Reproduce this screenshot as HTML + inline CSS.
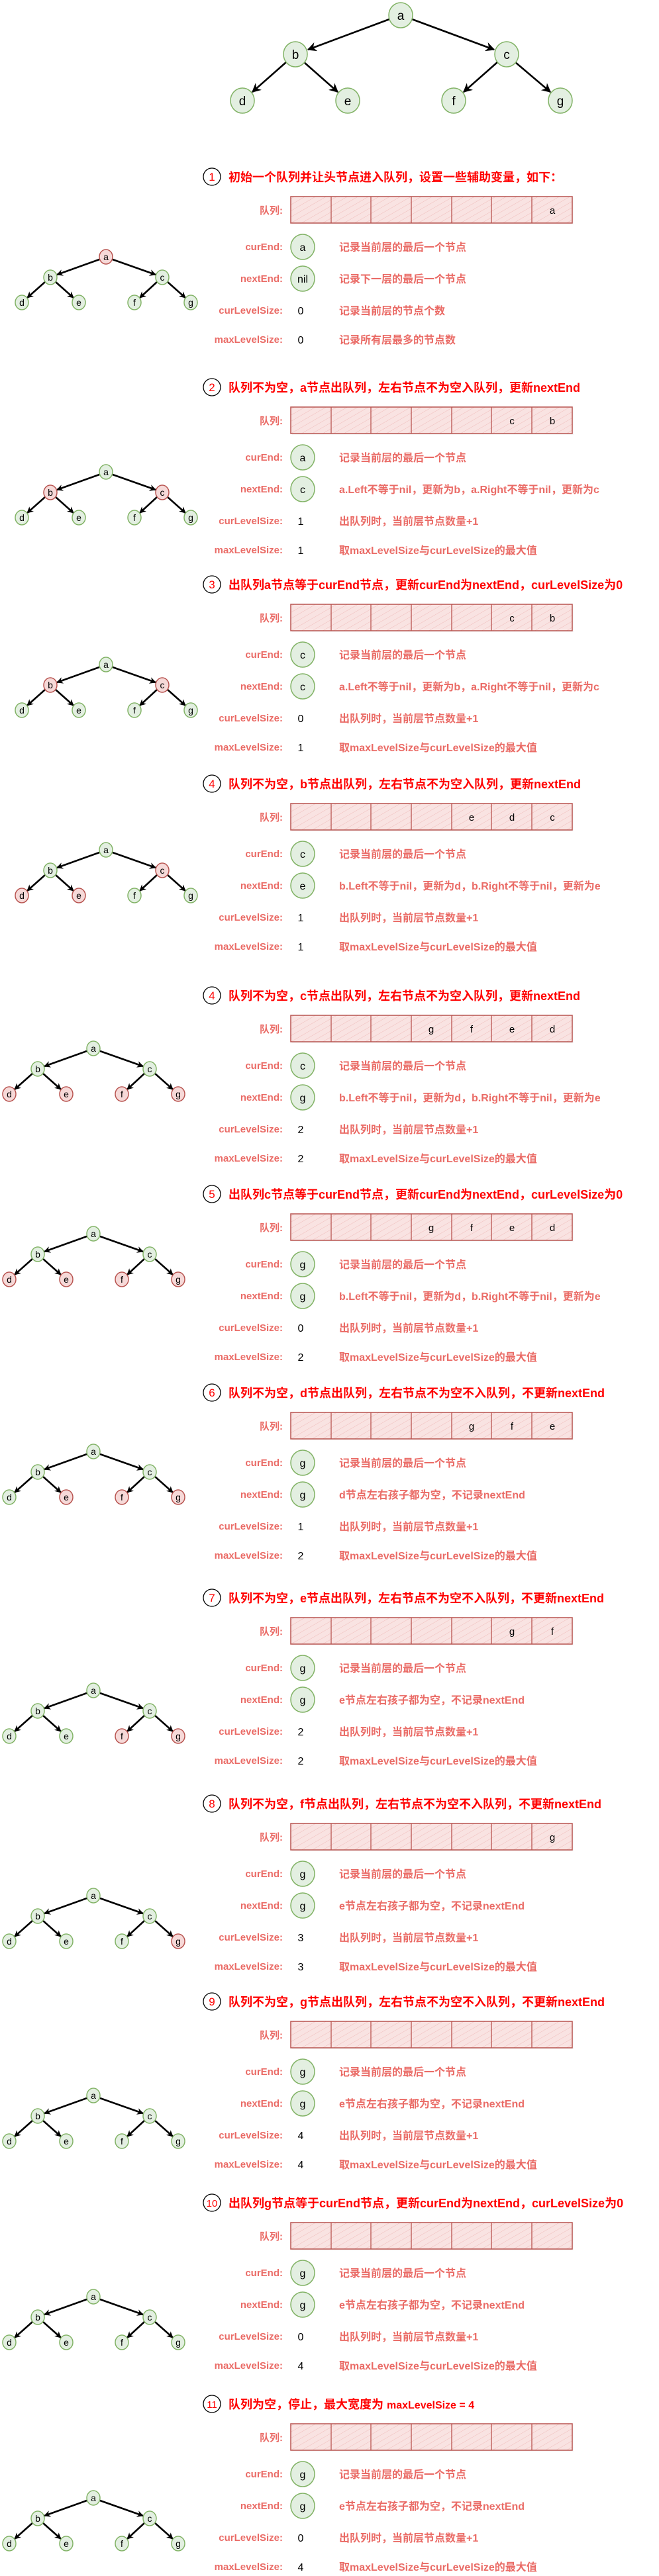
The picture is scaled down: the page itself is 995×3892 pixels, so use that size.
<!DOCTYPE html>
<html><head><meta charset="utf-8"><style>
html,body{margin:0;padding:0;background:#fff;}
svg{display:block;}
text{font-family:"Liberation Sans","Noto Sans CJK SC",sans-serif;}
.hn{font-size:17px;fill:#f00;text-anchor:middle;}
.ht{font-size:18px;font-weight:bold;fill:#f00;}
.lb{font-size:15px;font-weight:bold;fill:#ea6b66;text-anchor:end;}
.ds{font-size:16px;font-weight:bold;fill:#ea6b66;}
.vv{font-size:16px;fill:#000;text-anchor:middle;}
.ql{font-size:15px;fill:#000;text-anchor:middle;}
.tn{font-size:14px;fill:#000;text-anchor:middle;}
.bn{font-size:19px;fill:#000;text-anchor:middle;}
.ng{fill:#e3efe1;stroke:#82b366;stroke-width:1.5;}
.nr{fill:#f6d9d8;stroke:#b85450;stroke-width:1.5;}
.ar{stroke:#000;stroke-width:2.6;fill:none;}
.hc{fill:#fff;stroke:#000;stroke-width:1.3;}
</style></head><body>
<svg width="995" height="3892" viewBox="0 0 995 3892" xmlns="http://www.w3.org/2000/svg">
<defs>
<pattern id="hp" width="8" height="8" patternUnits="userSpaceOnUse" patternTransform="rotate(60)">
<rect width="8" height="8" fill="#f9e3e2"/><line x1="0" y1="0" x2="0" y2="8" stroke="#efbcba" stroke-width="1"/></pattern>
<marker id="m1" viewBox="0 0 10 10" refX="9" refY="5" markerWidth="10" markerHeight="10" markerUnits="userSpaceOnUse" orient="auto"><path d="M0,0 L10,5 L0,10 L3,5 z" fill="#000"/></marker>
<marker id="m2" viewBox="0 0 10 10" refX="9" refY="5" markerWidth="14" markerHeight="14" markerUnits="userSpaceOnUse" orient="auto"><path d="M0,0 L10,5 L0,10 L3,5 z" fill="#000"/></marker>
<g id="q">
<rect x="441" y="32" width="425" height="40" fill="#eee" opacity="0.6"/>
<rect x="439" y="30" width="425" height="40" fill="url(#hp)" stroke="#b85450" stroke-width="1.5"/>
<path d="M500,30V70M560,30V70M621,30V70M682,30V70M742,30V70M803,30V70" stroke="#b85450" stroke-width="1.3"/>
</g>
<g id="ar">
<line class="ar" x1="-10" y1="4" x2="-74" y2="27" marker-end="url(#m1)"/>
<line class="ar" x1="10" y1="4" x2="75" y2="27" marker-end="url(#m1)"/>
<line class="ar" x1="-92" y1="38" x2="-119" y2="62" marker-end="url(#m1)"/>
<line class="ar" x1="-76" y1="38" x2="-49" y2="62" marker-end="url(#m1)"/>
<line class="ar" x1="77" y1="38" x2="51" y2="62" marker-end="url(#m1)"/>
<line class="ar" x1="93" y1="38" x2="120" y2="62" marker-end="url(#m1)"/>
</g>
<g id="lbls">
<text x="427" y="56" class="lb">队列:</text>
<text x="427" y="111" class="lb">curEnd:</text>
<text x="427" y="159" class="lb">nextEnd:</text>
<text x="427" y="207" class="lb">curLevelSize:</text>
<text x="427" y="251" class="lb">maxLevelSize:</text>
<ellipse class="ng" cx="457" cy="106" rx="18" ry="19"/>
<ellipse class="ng" cx="457" cy="154" rx="18" ry="19"/>
</g>
</defs>

<!-- big tree -->
<line class="ar" x1="588" y1="29" x2="465" y2="75" stroke-width="3.2" marker-end="url(#m2)"/>
<line class="ar" x1="622" y1="29" x2="746" y2="75" stroke-width="3.2" marker-end="url(#m2)"/>
<line class="ar" x1="432" y1="94" x2="381" y2="139" stroke-width="3.2" marker-end="url(#m2)"/>
<line class="ar" x1="459" y1="94" x2="510" y2="139" stroke-width="3.2" marker-end="url(#m2)"/>
<line class="ar" x1="751" y1="94" x2="700" y2="139" stroke-width="3.2" marker-end="url(#m2)"/>
<line class="ar" x1="778" y1="94" x2="831" y2="139" stroke-width="3.2" marker-end="url(#m2)"/>
<ellipse class="ng" cx="605" cy="23" rx="18" ry="19"/><text class="bn" x="605" y="30">a</text>
<ellipse class="ng" cx="446" cy="82" rx="18" ry="19"/><text class="bn" x="446" y="89">b</text>
<ellipse class="ng" cx="765" cy="82" rx="18" ry="19"/><text class="bn" x="765" y="89">c</text>
<ellipse class="ng" cx="366" cy="152" rx="18" ry="19"/><text class="bn" x="366" y="159">d</text>
<ellipse class="ng" cx="525" cy="152" rx="18" ry="19"/><text class="bn" x="525" y="159">e</text>
<ellipse class="ng" cx="685" cy="152" rx="18" ry="19"/><text class="bn" x="685" y="159">f</text>
<ellipse class="ng" cx="846" cy="152" rx="18" ry="19"/><text class="bn" x="846" y="159">g</text>

<!-- small trees -->
<g transform="translate(160,388)"><use href="#ar"/>
<ellipse class="nr" cx="0" cy="0" rx="10" ry="11"/><text class="tn" x="0" y="5">a</text>
<ellipse class="ng" cx="-84" cy="31" rx="10" ry="11"/><text class="tn" x="-84" y="36">b</text>
<ellipse class="ng" cx="85" cy="31" rx="10" ry="11"/><text class="tn" x="85" y="36">c</text>
<ellipse class="ng" cx="-127" cy="69" rx="10" ry="11"/><text class="tn" x="-127" y="74">d</text>
<ellipse class="ng" cx="-41" cy="69" rx="10" ry="11"/><text class="tn" x="-41" y="74">e</text>
<ellipse class="ng" cx="43" cy="69" rx="10" ry="11"/><text class="tn" x="43" y="74">f</text>
<ellipse class="ng" cx="128" cy="69" rx="10" ry="11"/><text class="tn" x="128" y="74">g</text></g>

<g transform="translate(160,713)"><use href="#ar"/>
<ellipse class="ng" cx="0" cy="0" rx="10" ry="11"/><text class="tn" x="0" y="5">a</text>
<ellipse class="nr" cx="-84" cy="31" rx="10" ry="11"/><text class="tn" x="-84" y="36">b</text>
<ellipse class="nr" cx="85" cy="31" rx="10" ry="11"/><text class="tn" x="85" y="36">c</text>
<ellipse class="ng" cx="-127" cy="69" rx="10" ry="11"/><text class="tn" x="-127" y="74">d</text>
<ellipse class="ng" cx="-41" cy="69" rx="10" ry="11"/><text class="tn" x="-41" y="74">e</text>
<ellipse class="ng" cx="43" cy="69" rx="10" ry="11"/><text class="tn" x="43" y="74">f</text>
<ellipse class="ng" cx="128" cy="69" rx="10" ry="11"/><text class="tn" x="128" y="74">g</text></g>

<g transform="translate(160,1004)"><use href="#ar"/>
<ellipse class="ng" cx="0" cy="0" rx="10" ry="11"/><text class="tn" x="0" y="5">a</text>
<ellipse class="nr" cx="-84" cy="31" rx="10" ry="11"/><text class="tn" x="-84" y="36">b</text>
<ellipse class="nr" cx="85" cy="31" rx="10" ry="11"/><text class="tn" x="85" y="36">c</text>
<ellipse class="ng" cx="-127" cy="69" rx="10" ry="11"/><text class="tn" x="-127" y="74">d</text>
<ellipse class="ng" cx="-41" cy="69" rx="10" ry="11"/><text class="tn" x="-41" y="74">e</text>
<ellipse class="ng" cx="43" cy="69" rx="10" ry="11"/><text class="tn" x="43" y="74">f</text>
<ellipse class="ng" cx="128" cy="69" rx="10" ry="11"/><text class="tn" x="128" y="74">g</text></g>

<g transform="translate(160,1284)"><use href="#ar"/>
<ellipse class="ng" cx="0" cy="0" rx="10" ry="11"/><text class="tn" x="0" y="5">a</text>
<ellipse class="ng" cx="-84" cy="31" rx="10" ry="11"/><text class="tn" x="-84" y="36">b</text>
<ellipse class="nr" cx="85" cy="31" rx="10" ry="11"/><text class="tn" x="85" y="36">c</text>
<ellipse class="nr" cx="-127" cy="69" rx="10" ry="11"/><text class="tn" x="-127" y="74">d</text>
<ellipse class="nr" cx="-41" cy="69" rx="10" ry="11"/><text class="tn" x="-41" y="74">e</text>
<ellipse class="ng" cx="43" cy="69" rx="10" ry="11"/><text class="tn" x="43" y="74">f</text>
<ellipse class="ng" cx="128" cy="69" rx="10" ry="11"/><text class="tn" x="128" y="74">g</text></g>

<g transform="translate(141,1584)"><use href="#ar"/>
<ellipse class="ng" cx="0" cy="0" rx="10" ry="11"/><text class="tn" x="0" y="5">a</text>
<ellipse class="ng" cx="-84" cy="31" rx="10" ry="11"/><text class="tn" x="-84" y="36">b</text>
<ellipse class="ng" cx="85" cy="31" rx="10" ry="11"/><text class="tn" x="85" y="36">c</text>
<ellipse class="nr" cx="-127" cy="69" rx="10" ry="11"/><text class="tn" x="-127" y="74">d</text>
<ellipse class="nr" cx="-41" cy="69" rx="10" ry="11"/><text class="tn" x="-41" y="74">e</text>
<ellipse class="nr" cx="43" cy="69" rx="10" ry="11"/><text class="tn" x="43" y="74">f</text>
<ellipse class="nr" cx="128" cy="69" rx="10" ry="11"/><text class="tn" x="128" y="74">g</text></g>

<g transform="translate(141,1864)"><use href="#ar"/>
<ellipse class="ng" cx="0" cy="0" rx="10" ry="11"/><text class="tn" x="0" y="5">a</text>
<ellipse class="ng" cx="-84" cy="31" rx="10" ry="11"/><text class="tn" x="-84" y="36">b</text>
<ellipse class="ng" cx="85" cy="31" rx="10" ry="11"/><text class="tn" x="85" y="36">c</text>
<ellipse class="nr" cx="-127" cy="69" rx="10" ry="11"/><text class="tn" x="-127" y="74">d</text>
<ellipse class="nr" cx="-41" cy="69" rx="10" ry="11"/><text class="tn" x="-41" y="74">e</text>
<ellipse class="nr" cx="43" cy="69" rx="10" ry="11"/><text class="tn" x="43" y="74">f</text>
<ellipse class="nr" cx="128" cy="69" rx="10" ry="11"/><text class="tn" x="128" y="74">g</text></g>

<g transform="translate(141,2193)"><use href="#ar"/>
<ellipse class="ng" cx="0" cy="0" rx="10" ry="11"/><text class="tn" x="0" y="5">a</text>
<ellipse class="ng" cx="-84" cy="31" rx="10" ry="11"/><text class="tn" x="-84" y="36">b</text>
<ellipse class="ng" cx="85" cy="31" rx="10" ry="11"/><text class="tn" x="85" y="36">c</text>
<ellipse class="ng" cx="-127" cy="69" rx="10" ry="11"/><text class="tn" x="-127" y="74">d</text>
<ellipse class="nr" cx="-41" cy="69" rx="10" ry="11"/><text class="tn" x="-41" y="74">e</text>
<ellipse class="nr" cx="43" cy="69" rx="10" ry="11"/><text class="tn" x="43" y="74">f</text>
<ellipse class="nr" cx="128" cy="69" rx="10" ry="11"/><text class="tn" x="128" y="74">g</text></g>

<g transform="translate(141,2554)"><use href="#ar"/>
<ellipse class="ng" cx="0" cy="0" rx="10" ry="11"/><text class="tn" x="0" y="5">a</text>
<ellipse class="ng" cx="-84" cy="31" rx="10" ry="11"/><text class="tn" x="-84" y="36">b</text>
<ellipse class="ng" cx="85" cy="31" rx="10" ry="11"/><text class="tn" x="85" y="36">c</text>
<ellipse class="ng" cx="-127" cy="69" rx="10" ry="11"/><text class="tn" x="-127" y="74">d</text>
<ellipse class="ng" cx="-41" cy="69" rx="10" ry="11"/><text class="tn" x="-41" y="74">e</text>
<ellipse class="nr" cx="43" cy="69" rx="10" ry="11"/><text class="tn" x="43" y="74">f</text>
<ellipse class="nr" cx="128" cy="69" rx="10" ry="11"/><text class="tn" x="128" y="74">g</text></g>

<g transform="translate(141,2864)"><use href="#ar"/>
<ellipse class="ng" cx="0" cy="0" rx="10" ry="11"/><text class="tn" x="0" y="5">a</text>
<ellipse class="ng" cx="-84" cy="31" rx="10" ry="11"/><text class="tn" x="-84" y="36">b</text>
<ellipse class="ng" cx="85" cy="31" rx="10" ry="11"/><text class="tn" x="85" y="36">c</text>
<ellipse class="ng" cx="-127" cy="69" rx="10" ry="11"/><text class="tn" x="-127" y="74">d</text>
<ellipse class="ng" cx="-41" cy="69" rx="10" ry="11"/><text class="tn" x="-41" y="74">e</text>
<ellipse class="ng" cx="43" cy="69" rx="10" ry="11"/><text class="tn" x="43" y="74">f</text>
<ellipse class="nr" cx="128" cy="69" rx="10" ry="11"/><text class="tn" x="128" y="74">g</text></g>

<g transform="translate(141,3166)"><use href="#ar"/>
<ellipse class="ng" cx="0" cy="0" rx="10" ry="11"/><text class="tn" x="0" y="5">a</text>
<ellipse class="ng" cx="-84" cy="31" rx="10" ry="11"/><text class="tn" x="-84" y="36">b</text>
<ellipse class="ng" cx="85" cy="31" rx="10" ry="11"/><text class="tn" x="85" y="36">c</text>
<ellipse class="ng" cx="-127" cy="69" rx="10" ry="11"/><text class="tn" x="-127" y="74">d</text>
<ellipse class="ng" cx="-41" cy="69" rx="10" ry="11"/><text class="tn" x="-41" y="74">e</text>
<ellipse class="ng" cx="43" cy="69" rx="10" ry="11"/><text class="tn" x="43" y="74">f</text>
<ellipse class="ng" cx="128" cy="69" rx="10" ry="11"/><text class="tn" x="128" y="74">g</text></g>

<g transform="translate(141,3470)"><use href="#ar"/>
<ellipse class="ng" cx="0" cy="0" rx="10" ry="11"/><text class="tn" x="0" y="5">a</text>
<ellipse class="ng" cx="-84" cy="31" rx="10" ry="11"/><text class="tn" x="-84" y="36">b</text>
<ellipse class="ng" cx="85" cy="31" rx="10" ry="11"/><text class="tn" x="85" y="36">c</text>
<ellipse class="ng" cx="-127" cy="69" rx="10" ry="11"/><text class="tn" x="-127" y="74">d</text>
<ellipse class="ng" cx="-41" cy="69" rx="10" ry="11"/><text class="tn" x="-41" y="74">e</text>
<ellipse class="ng" cx="43" cy="69" rx="10" ry="11"/><text class="tn" x="43" y="74">f</text>
<ellipse class="ng" cx="128" cy="69" rx="10" ry="11"/><text class="tn" x="128" y="74">g</text></g>

<g transform="translate(141,3774)"><use href="#ar"/>
<ellipse class="ng" cx="0" cy="0" rx="10" ry="11"/><text class="tn" x="0" y="5">a</text>
<ellipse class="ng" cx="-84" cy="31" rx="10" ry="11"/><text class="tn" x="-84" y="36">b</text>
<ellipse class="ng" cx="85" cy="31" rx="10" ry="11"/><text class="tn" x="85" y="36">c</text>
<ellipse class="ng" cx="-127" cy="69" rx="10" ry="11"/><text class="tn" x="-127" y="74">d</text>
<ellipse class="ng" cx="-41" cy="69" rx="10" ry="11"/><text class="tn" x="-41" y="74">e</text>
<ellipse class="ng" cx="43" cy="69" rx="10" ry="11"/><text class="tn" x="43" y="74">f</text>
<ellipse class="ng" cx="128" cy="69" rx="10" ry="11"/><text class="tn" x="128" y="74">g</text></g>

<!-- step 1 -->
<g transform="translate(0,267)">
<circle class="hc" cx="320" cy="0" r="13"/><text class="hn" x="320" y="6">1</text>
<text class="ht" x="345" y="7">初始一个队列并让头节点进入队列，设置一些辅助变量，如下：</text>
<use href="#q"/><use href="#lbls"/>
<text class="ql" x="834" y="56">a</text>
<text class="vv" x="457" y="112">a</text><text class="vv" x="457" y="160">nil</text>
<text class="vv" x="454" y="208">0</text><text class="vv" x="454" y="252">0</text>
<text class="ds" x="512" y="112">记录当前层的最后一个节点</text>
<text class="ds" x="512" y="160">记录下一层的最后一个节点</text>
<text class="ds" x="512" y="208">记录当前层的节点个数</text>
<text class="ds" x="512" y="252">记录所有层最多的节点数</text>
</g>

<!-- step 2 -->
<g transform="translate(0,585)">
<circle class="hc" cx="320" cy="0" r="13"/><text class="hn" x="320" y="6">2</text>
<text class="ht" x="345" y="7">队列不为空，a节点出队列，左右节点不为空入队列，更新nextEnd</text>
<use href="#q"/><use href="#lbls"/>
<text class="ql" x="773" y="56">c</text><text class="ql" x="834" y="56">b</text>
<text class="vv" x="457" y="112">a</text><text class="vv" x="457" y="160">c</text>
<text class="vv" x="454" y="208">1</text><text class="vv" x="454" y="252">1</text>
<text class="ds" x="512" y="112">记录当前层的最后一个节点</text>
<text class="ds" x="512" y="160">a.Left不等于nil，更新为b，a.Right不等于nil，更新为c</text>
<text class="ds" x="512" y="208">出队列时，当前层节点数量+1</text>
<text class="ds" x="512" y="252">取maxLevelSize与curLevelSize的最大值</text>
</g>

<!-- step 3 -->
<g transform="translate(0,883)">
<circle class="hc" cx="320" cy="0" r="13"/><text class="hn" x="320" y="6">3</text>
<text class="ht" x="345" y="7">出队列a节点等于curEnd节点，更新curEnd为nextEnd，curLevelSize为0</text>
<use href="#q"/><use href="#lbls"/>
<text class="ql" x="773" y="56">c</text><text class="ql" x="834" y="56">b</text>
<text class="vv" x="457" y="112">c</text><text class="vv" x="457" y="160">c</text>
<text class="vv" x="454" y="208">0</text><text class="vv" x="454" y="252">1</text>
<text class="ds" x="512" y="112">记录当前层的最后一个节点</text>
<text class="ds" x="512" y="160">a.Left不等于nil，更新为b，a.Right不等于nil，更新为c</text>
<text class="ds" x="512" y="208">出队列时，当前层节点数量+1</text>
<text class="ds" x="512" y="252">取maxLevelSize与curLevelSize的最大值</text>
</g>

<!-- step 4 -->
<g transform="translate(0,1184)">
<circle class="hc" cx="320" cy="0" r="13"/><text class="hn" x="320" y="6">4</text>
<text class="ht" x="345" y="7">队列不为空，b节点出队列，左右节点不为空入队列，更新nextEnd</text>
<use href="#q"/><use href="#lbls"/>
<text class="ql" x="712" y="56">e</text><text class="ql" x="773" y="56">d</text><text class="ql" x="834" y="56">c</text>
<text class="vv" x="457" y="112">c</text><text class="vv" x="457" y="160">e</text>
<text class="vv" x="454" y="208">1</text><text class="vv" x="454" y="252">1</text>
<text class="ds" x="512" y="112">记录当前层的最后一个节点</text>
<text class="ds" x="512" y="160">b.Left不等于nil，更新为d，b.Right不等于nil，更新为e</text>
<text class="ds" x="512" y="208">出队列时，当前层节点数量+1</text>
<text class="ds" x="512" y="252">取maxLevelSize与curLevelSize的最大值</text>
</g>

<!-- step 4b -->
<g transform="translate(0,1504)">
<circle class="hc" cx="320" cy="0" r="13"/><text class="hn" x="320" y="6">4</text>
<text class="ht" x="345" y="7">队列不为空，c节点出队列，左右节点不为空入队列，更新nextEnd</text>
<use href="#q"/><use href="#lbls"/>
<text class="ql" x="651" y="56">g</text><text class="ql" x="712" y="56">f</text><text class="ql" x="773" y="56">e</text><text class="ql" x="834" y="56">d</text>
<text class="vv" x="457" y="112">c</text><text class="vv" x="457" y="160">g</text>
<text class="vv" x="454" y="208">2</text><text class="vv" x="454" y="252">2</text>
<text class="ds" x="512" y="112">记录当前层的最后一个节点</text>
<text class="ds" x="512" y="160">b.Left不等于nil，更新为d，b.Right不等于nil，更新为e</text>
<text class="ds" x="512" y="208">出队列时，当前层节点数量+1</text>
<text class="ds" x="512" y="252">取maxLevelSize与curLevelSize的最大值</text>
</g>

<!-- step 5 -->
<g transform="translate(0,1804)">
<circle class="hc" cx="320" cy="0" r="13"/><text class="hn" x="320" y="6">5</text>
<text class="ht" x="345" y="7">出队列c节点等于curEnd节点，更新curEnd为nextEnd，curLevelSize为0</text>
<use href="#q"/><use href="#lbls"/>
<text class="ql" x="651" y="56">g</text><text class="ql" x="712" y="56">f</text><text class="ql" x="773" y="56">e</text><text class="ql" x="834" y="56">d</text>
<text class="vv" x="457" y="112">g</text><text class="vv" x="457" y="160">g</text>
<text class="vv" x="454" y="208">0</text><text class="vv" x="454" y="252">2</text>
<text class="ds" x="512" y="112">记录当前层的最后一个节点</text>
<text class="ds" x="512" y="160">b.Left不等于nil，更新为d，b.Right不等于nil，更新为e</text>
<text class="ds" x="512" y="208">出队列时，当前层节点数量+1</text>
<text class="ds" x="512" y="252">取maxLevelSize与curLevelSize的最大值</text>
</g>

<!-- step 6 -->
<g transform="translate(0,2104)">
<circle class="hc" cx="320" cy="0" r="13"/><text class="hn" x="320" y="6">6</text>
<text class="ht" x="345" y="7">队列不为空，d节点出队列，左右节点不为空不入队列，不更新nextEnd</text>
<use href="#q"/><use href="#lbls"/>
<text class="ql" x="712" y="56">g</text><text class="ql" x="773" y="56">f</text><text class="ql" x="834" y="56">e</text>
<text class="vv" x="457" y="112">g</text><text class="vv" x="457" y="160">g</text>
<text class="vv" x="454" y="208">1</text><text class="vv" x="454" y="252">2</text>
<text class="ds" x="512" y="112">记录当前层的最后一个节点</text>
<text class="ds" x="512" y="160">d节点左右孩子都为空，不记录nextEnd</text>
<text class="ds" x="512" y="208">出队列时，当前层节点数量+1</text>
<text class="ds" x="512" y="252">取maxLevelSize与curLevelSize的最大值</text>
</g>

<!-- step 7 -->
<g transform="translate(0,2414)">
<circle class="hc" cx="320" cy="0" r="13"/><text class="hn" x="320" y="6">7</text>
<text class="ht" x="345" y="7">队列不为空，e节点出队列，左右节点不为空不入队列，不更新nextEnd</text>
<use href="#q"/><use href="#lbls"/>
<text class="ql" x="773" y="56">g</text><text class="ql" x="834" y="56">f</text>
<text class="vv" x="457" y="112">g</text><text class="vv" x="457" y="160">g</text>
<text class="vv" x="454" y="208">2</text><text class="vv" x="454" y="252">2</text>
<text class="ds" x="512" y="112">记录当前层的最后一个节点</text>
<text class="ds" x="512" y="160">e节点左右孩子都为空，不记录nextEnd</text>
<text class="ds" x="512" y="208">出队列时，当前层节点数量+1</text>
<text class="ds" x="512" y="252">取maxLevelSize与curLevelSize的最大值</text>
</g>

<!-- step 8 -->
<g transform="translate(0,2725)">
<circle class="hc" cx="320" cy="0" r="13"/><text class="hn" x="320" y="6">8</text>
<text class="ht" x="345" y="7">队列不为空，f节点出队列，左右节点不为空不入队列，不更新nextEnd</text>
<use href="#q"/><use href="#lbls"/>
<text class="ql" x="834" y="56">g</text>
<text class="vv" x="457" y="112">g</text><text class="vv" x="457" y="160">g</text>
<text class="vv" x="454" y="208">3</text><text class="vv" x="454" y="252">3</text>
<text class="ds" x="512" y="112">记录当前层的最后一个节点</text>
<text class="ds" x="512" y="160">e节点左右孩子都为空，不记录nextEnd</text>
<text class="ds" x="512" y="208">出队列时，当前层节点数量+1</text>
<text class="ds" x="512" y="252">取maxLevelSize与curLevelSize的最大值</text>
</g>

<!-- step 9 -->
<g transform="translate(0,3024)">
<circle class="hc" cx="320" cy="0" r="13"/><text class="hn" x="320" y="6">9</text>
<text class="ht" x="345" y="7">队列不为空，g节点出队列，左右节点不为空不入队列，不更新nextEnd</text>
<use href="#q"/><use href="#lbls"/>
<text class="vv" x="457" y="112">g</text><text class="vv" x="457" y="160">g</text>
<text class="vv" x="454" y="208">4</text><text class="vv" x="454" y="252">4</text>
<text class="ds" x="512" y="112">记录当前层的最后一个节点</text>
<text class="ds" x="512" y="160">e节点左右孩子都为空，不记录nextEnd</text>
<text class="ds" x="512" y="208">出队列时，当前层节点数量+1</text>
<text class="ds" x="512" y="252">取maxLevelSize与curLevelSize的最大值</text>
</g>

<!-- step 10 -->
<g transform="translate(0,3328)">
<circle class="hc" cx="320" cy="0" r="13"/><text class="hn" x="320" y="6" style="font-size:15px">10</text>
<text class="ht" x="345" y="7">出队列g节点等于curEnd节点，更新curEnd为nextEnd，curLevelSize为0</text>
<use href="#q"/><use href="#lbls"/>
<text class="vv" x="457" y="112">g</text><text class="vv" x="457" y="160">g</text>
<text class="vv" x="454" y="208">0</text><text class="vv" x="454" y="252">4</text>
<text class="ds" x="512" y="112">记录当前层的最后一个节点</text>
<text class="ds" x="512" y="160">e节点左右孩子都为空，不记录nextEnd</text>
<text class="ds" x="512" y="208">出队列时，当前层节点数量+1</text>
<text class="ds" x="512" y="252">取maxLevelSize与curLevelSize的最大值</text>
</g>

<!-- step 11 -->
<g transform="translate(0,3632)">
<circle class="hc" cx="320" cy="0" r="13"/><text class="hn" x="320" y="6" style="font-size:15px">11</text>
<text class="ht" x="345" y="7">队列为空，停止，最大宽度为 <tspan style="font-size:16px">maxLevelSize = 4</tspan></text>
<use href="#q"/><use href="#lbls"/>
<text class="vv" x="457" y="112">g</text><text class="vv" x="457" y="160">g</text>
<text class="vv" x="454" y="208">0</text><text class="vv" x="454" y="252">4</text>
<text class="ds" x="512" y="112">记录当前层的最后一个节点</text>
<text class="ds" x="512" y="160">e节点左右孩子都为空，不记录nextEnd</text>
<text class="ds" x="512" y="208">出队列时，当前层节点数量+1</text>
<text class="ds" x="512" y="252">取maxLevelSize与curLevelSize的最大值</text>
</g>
</svg>
</body></html>
